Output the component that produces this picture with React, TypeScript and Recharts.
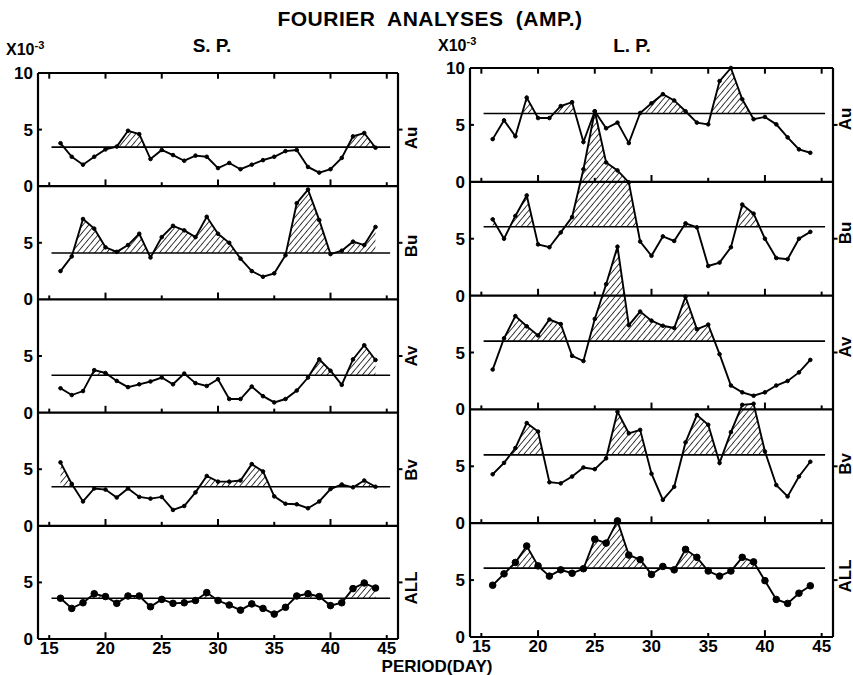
import React from 'react';
import { ComposedChart, Line, Area, XAxis, YAxis, ReferenceLine } from 'recharts';

// periods (days) and axis ticks
const days = [16, 17, 18, 19, 20, 21, 22, 23, 24, 25, 26, 27, 28, 29, 30, 31, 32, 33, 34, 35, 36, 37, 38, 39, 40, 41, 42, 43, 44];
const xTicks = [15, 20, 25, 30, 35, 40, 45];
const yTicks = [0, 5, 10, 15, 20, 25, 30, 35, 40, 45, 50];
const panelNames = ['Au', 'Bu', 'Av', 'Bv', 'ALL'];

// S.P. amplitudes (x10^-3)
const spAu = [3.8, 2.6, 1.9, 2.6, 3.25, 3.5, 4.9, 4.6, 2.4, 3.2, 2.75, 2.25, 2.7, 2.6, 1.6, 2.05, 1.5, 1.9, 2.3, 2.6, 3.1, 3.2, 1.7, 1.2, 1.5, 2.5, 4.4, 4.7, 3.4];
const spBu = [2.5, 3.8, 7.1, 6.25, 4.6, 4.2, 4.8, 5.8, 3.7, 5.5, 6.5, 6.1, 5.5, 7.3, 5.8, 5.0, 3.6, 2.5, 2.0, 2.3, 3.9, 8.5, 9.7, 7.0, 4.0, 4.3, 5.1, 4.8, 6.4];
const spAv = [2.15, 1.55, 1.9, 3.75, 3.5, 2.8, 2.25, 2.5, 2.75, 3.1, 2.5, 3.45, 2.6, 2.35, 2.95, 1.2, 1.2, 2.3, 1.45, 0.9, 1.2, 1.95, 3.1, 4.7, 3.7, 2.45, 4.7, 5.95, 4.65];
const spBv = [5.6, 3.7, 2.15, 3.3, 3.2, 2.5, 3.3, 2.55, 2.4, 2.55, 1.4, 1.75, 2.95, 4.4, 3.9, 3.9, 4.0, 5.45, 4.8, 2.6, 1.95, 1.9, 1.55, 2.15, 3.25, 3.65, 3.4, 4.0, 3.45];
const spAll = [3.6, 2.7, 3.2, 4.0, 3.75, 3.15, 3.8, 3.8, 2.85, 3.5, 3.15, 3.2, 3.4, 4.1, 3.4, 3.0, 2.55, 3.1, 2.7, 2.2, 2.8, 3.8, 4.0, 3.75, 2.95, 3.2, 4.45, 4.95, 4.5];
const spMeans = [3.45, 4.1, 3.3, 3.45, 3.6];

// L.P. amplitudes (x10^-3)
const lpAu = [3.75, 5.4, 4.0, 7.4, 5.6, 5.6, 6.65, 7.0, 3.5, 6.2, 4.7, 5.2, 3.4, 6.05, 6.9, 7.7, 7.15, 6.2, 5.2, 5.05, 8.85, 10.0, 7.25, 5.5, 5.7, 5.05, 3.9, 2.85, 2.55];
const lpBu = [6.7, 5.0, 7.0, 8.8, 4.5, 4.25, 5.55, 6.9, 11.1, 16.2, 11.7, 11.0, 9.95, 4.75, 3.5, 5.2, 4.8, 6.35, 6.0, 2.6, 2.9, 4.25, 8.0, 7.2, 5.0, 3.3, 3.2, 5.0, 5.6];
const lpAv = [3.5, 6.25, 8.2, 7.3, 6.5, 7.9, 7.5, 4.7, 4.25, 7.95, 11.0, 14.3, 7.4, 8.6, 7.8, 7.35, 7.15, 9.9, 7.05, 7.45, 4.85, 2.1, 1.5, 1.2, 1.5, 2.1, 2.5, 3.25, 4.35];
const lpBv = [4.3, 5.3, 6.6, 8.8, 8.05, 3.6, 3.5, 4.1, 4.9, 4.75, 5.7, 9.8, 7.9, 8.2, 4.35, 2.05, 3.2, 7.1, 9.5, 8.65, 5.3, 8.0, 10.4, 10.5, 6.3, 3.35, 2.35, 4.1, 5.4];
const lpAll = [4.55, 5.55, 6.55, 8.0, 6.25, 5.35, 5.9, 5.6, 6.0, 8.6, 8.25, 10.2, 7.2, 6.8, 5.5, 6.2, 5.9, 7.7, 7.0, 5.8, 5.35, 5.8, 7.0, 6.6, 4.95, 3.3, 2.95, 3.85, 4.5];
const lpMeans = [6.0, 6.05, 6.0, 6.0, 6.05];

const FONT = "'Liberation Sans', Arial, sans-serif";

type Row = { day: number; [key: string]: number };

// one tall chart per column, each panel shifted up by 10 units
function buildRows(series: number[][], means: number[]) {
  const rows = new Map<number, Row>();
  const get = (x: number) => {
    let r = rows.get(x);
    if (!r) {
      r = { day: x };
      rows.set(x, r);
    }
    return r;
  };
  series.forEach((vals, k) => {
    const off = (series.length - 1 - k) * 10;
    const m = means[k];
    vals.forEach((v, i) => {
      const r = get(days[i]);
      r['v' + k] = off + v;
      r['h' + k] = off + Math.max(v, m);
      if (i > 0) {
        const p = vals[i - 1];
        if ((p - m) * (v - m) < 0) {
          // where the curve crosses the mean, so the hatch stops there
          const xc = days[i - 1] + ((m - p) / (v - p)) * (days[i] - days[i - 1]);
          get(xc)['h' + k] = off + m;
        }
      }
    });
  });
  return [...rows.values()].sort((a, b) => a.day - b.day);
}

const black = '#000';

function Column({ series, means, width, height, right, dotR }: { series: number[][]; means: number[]; width: number; height: number; right: number; dotR: number[] }) {
  const rows = buildRows(series, means);
  const n = series.length;
  const bounds = [0, 10, 20, 30, 40];
  return (
    <ComposedChart width={width} height={height} data={rows} margin={{ top: 23, right, bottom: 12, left: 8 }}>
      <XAxis
        dataKey="day"
        type="number"
        domain={[14, 46]}
        ticks={xTicks}
        interval={0}
        tickLine={false}
        tickSize={0}
        tickMargin={3}
        height={24}
        axisLine={{ stroke: black, strokeWidth: 2.2 }}
        tick={{ fill: black, fontSize: 17, fontWeight: 700, fontFamily: FONT }}
      />
      <YAxis
        type="number"
        domain={[0, 50]}
        ticks={yTicks}
        interval={0}
        width={30}
        tickLine={false}
        tickSize={0}
        tickMargin={5}
        axisLine={{ stroke: black, strokeWidth: 2.2 }}
        tick={{ fill: black, fontSize: 17, fontWeight: 700, fontFamily: FONT }}
        tickFormatter={(v: number) => (v === 50 ? '10' : v % 10 === 0 ? '0' : '5')}
      />
      {series.map((_, k) => {
        const off = (n - 1 - k) * 10;
        return (
          <Area
            key={'a' + k}
            dataKey={'h' + k}
            type="linear"
            baseValue={off + means[k]}
            stroke="none"
            fill="url(#hatch)"
            fillOpacity={1}
            connectNulls
            dot={false}
            activeDot={false}
            isAnimationActive={false}
          />
        );
      })}
      <ReferenceLine y={50} stroke={black} strokeWidth={2.2} />
      <ReferenceLine x={46} stroke={black} strokeWidth={2.2} />
      {bounds.slice(1).map((b) => (
        <ReferenceLine key={'b' + b} y={b} stroke={black} strokeWidth={2.2} />
      ))}
      {bounds.flatMap((b) =>
        xTicks.map((t) => (
          <ReferenceLine
            key={'t' + b + '-' + t}
            segment={[{ x: t, y: b }, { x: t, y: b + (t % 10 === 0 ? 0.6 : 0.35) }]}
            stroke={black}
            strokeWidth={2}
          />
        ))
      )}
      {xTicks.map((t) => (
        <ReferenceLine key={'tt' + t} segment={[{ x: t, y: 50 }, { x: t, y: 49.5 }]} stroke={black} strokeWidth={2} />
      ))}
      {bounds.map((b) => (
        <ReferenceLine key={'yl' + b} segment={[{ x: 14, y: b + 5 }, { x: 14.35, y: b + 5 }]} stroke={black} strokeWidth={2} />
      ))}
      {bounds.map((b) => (
        <ReferenceLine key={'yr' + b} segment={[{ x: 46, y: b + 5 }, { x: 46.4, y: b + 5 }]} stroke={black} strokeWidth={2} ifOverflow="visible" />
      ))}
      {series.map((_, k) => {
        const off = (n - 1 - k) * 10;
        return (
          <ReferenceLine
            key={'m' + k}
            segment={[{ x: 15.2, y: off + means[k] }, { x: 45.3, y: off + means[k] }]}
            stroke={black}
            strokeWidth={1.6}
          />
        );
      })}
      {series.map((_, k) => (
        <Line
          key={'l' + k}
          dataKey={'v' + k}
          type="linear"
          stroke={black}
          strokeWidth={1.9}
          connectNulls
          dot={{ r: dotR[k], fill: black, stroke: black, strokeWidth: 1 }}
          activeDot={false}
          isAnimationActive={false}
        />
      ))}
    </ComposedChart>
  );
}

const text = (extra: React.CSSProperties): React.CSSProperties => ({
  position: 'absolute',
  fontFamily: FONT,
  fontWeight: 700,
  color: black,
  whiteSpace: 'nowrap',
  lineHeight: 1,
  ...extra,
});

function SideLabel({ x, y, label }: { x: number; y: number; label: string }) {
  return <div style={text({ left: x, top: y, fontSize: 17, transform: 'translate(-50%, -50%) rotate(-90deg)' })}>{label}</div>;
}

export default function App() {
  const dotR = [1.8, 1.8, 1.8, 1.8, 3.3];
  return (
    <div style={{ position: 'absolute', left: 0, top: 0, width: 853, height: 675, background: '#fff', overflow: 'hidden' }}>
      <svg width={0} height={0} style={{ position: 'absolute' }}>
        <defs>
          <pattern id="hatch" width={4.5} height={4.5} patternUnits="userSpaceOnUse" patternTransform="rotate(40)">
            <line x1={0} y1={0} x2={0} y2={4.5} stroke={black} strokeWidth={1.5} />
          </pattern>
        </defs>
      </svg>
      <div style={text({ left: 430, top: 8, fontSize: 21, transform: 'translateX(-50%)', wordSpacing: 6, letterSpacing: 0.5 })}>FOURIER ANALYSES (AMP.)</div>
      <div style={text({ left: 212, top: 36, fontSize: 19, transform: 'translateX(-50%)' })}>S. P.</div>
      <div style={text({ left: 632, top: 36, fontSize: 19, transform: 'translateX(-50%)' })}>L. P.</div>
      <div style={text({ left: 6, top: 40, fontSize: 16 })}>
        X10<sup style={{ fontSize: 11 }}>-3</sup>
      </div>
      <div style={text({ left: 438, top: 36, fontSize: 16 })}>
        X10<sup style={{ fontSize: 11 }}>-3</sup>
      </div>
      <div style={{ position: 'absolute', left: 0, top: 50 }}>
        <Column series={[spAu, spBu, spAv, spBv, spAll]} means={spMeans} width={430} height={625} right={32} dotR={dotR} />
      </div>
      <div style={{ position: 'absolute', left: 432, top: 45 }}>
        <Column series={[lpAu, lpBu, lpAv, lpBv, lpAll]} means={lpMeans} width={421} height={628} right={20} dotR={dotR} />
      </div>
      {panelNames.map((p, i) => (
        <SideLabel key={'sl' + p} x={411} y={[138, 246, 356, 470, 588][i]} label={p} />
      ))}
      {panelNames.map((p, i) => (
        <SideLabel key={'sr' + p} x={845} y={[119, 233, 347, 464, 576][i]} label={p} />
      ))}
      <div style={text({ left: 437, top: 658, fontSize: 17, transform: 'translateX(-50%)' })}>PERIOD(DAY)</div>
    </div>
  );
}
